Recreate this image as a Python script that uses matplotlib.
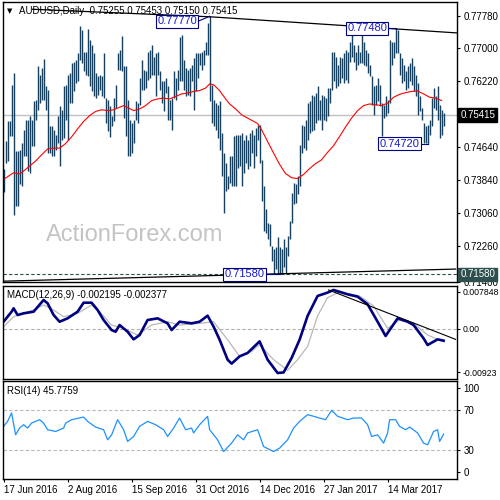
import numpy as np
import matplotlib.pyplot as plt
from matplotlib import transforms

plt.rcParams['font.family'] = ['Liberation Sans', 'DejaVu Sans']

# daily highs / lows, 17 Jun 2016 .. Apr 2017
highs = [
    0.7410, 0.7478, 0.7525, 0.7525, 0.7613, 0.7642, 0.7453, 0.7453, 0.7457, 0.7473,
    0.7505, 0.7529, 0.7529, 0.7537, 0.7529, 0.7573, 0.7577, 0.7657, 0.7637, 0.7653,
    0.7674, 0.7609, 0.7601, 0.7515, 0.7513, 0.7505, 0.7493, 0.7537, 0.7563, 0.7553,
    0.7609, 0.7613, 0.7637, 0.7641, 0.7665, 0.7668, 0.7672, 0.7688, 0.7754, 0.7744,
    0.7692, 0.7692, 0.7746, 0.7720, 0.7708, 0.7688, 0.7641, 0.7633, 0.7637, 0.7633,
    0.7688, 0.7581, 0.7577, 0.7561, 0.7537, 0.7581, 0.7613, 0.7688, 0.7696, 0.7730,
    0.7657, 0.7657, 0.7577, 0.7529, 0.7521, 0.7529, 0.7573, 0.7569, 0.7629, 0.7672,
    0.7649, 0.7645, 0.7692, 0.7696, 0.7708, 0.7680, 0.7688, 0.7692, 0.7645, 0.7621,
    0.7621, 0.7629, 0.7609, 0.7577, 0.7581, 0.7645, 0.7629, 0.7649, 0.7728, 0.7732,
    0.7672, 0.7653, 0.7649, 0.7653, 0.7661, 0.7676, 0.7688, 0.7688, 0.7688, 0.7692,
    0.7696, 0.7716, 0.7760, 0.7777, 0.7613, 0.7577, 0.7569, 0.7565, 0.7573, 0.7497,
    0.7449, 0.7426, 0.7394, 0.7441,
    0.7441, 0.7489, 0.7493, 0.7493, 0.7493, 0.7497, 0.7481, 0.7493, 0.7481, 0.7497,
    0.7505, 0.7493, 0.7509, 0.7517, 0.7517, 0.7433, 0.7370, 0.7314, 0.7282, 0.7278,
    0.7227, 0.7219, 0.7223, 0.7247, 0.7223, 0.7219, 0.7243, 0.7223, 0.7251, 0.7286,
    0.7354, 0.7378, 0.7374, 0.7394, 0.7469, 0.7517, 0.7513, 0.7529, 0.7569, 0.7573,
    0.7589, 0.7585, 0.7593, 0.7609, 0.7577, 0.7589, 0.7585, 0.7581, 0.7605, 0.7605,
    0.7692, 0.7692, 0.7680, 0.7661, 0.7680, 0.7676, 0.7688, 0.7696, 0.7692, 0.7716,
    0.7732, 0.7708, 0.7692, 0.7708, 0.7692, 0.7736, 0.7716, 0.7696, 0.7688, 0.7661,
    0.7633, 0.7609, 0.7613, 0.7629, 0.7613, 0.7569, 0.7565, 0.7585, 0.7577, 0.7720,
    0.7716, 0.7716, 0.7748, 0.7744, 0.7688, 0.7676, 0.7661, 0.7645, 0.7657, 0.7665,
    0.7676, 0.7657, 0.7637, 0.7617, 0.7585, 0.7557, 0.7521, 0.7513, 0.7517, 0.7529,
    0.7581, 0.7605, 0.7585, 0.7609, 0.7565, 0.7553, 0.7545,
]
lows = [
    0.7356, 0.7426, 0.7430, 0.7489, 0.7489, 0.7300, 0.7322, 0.7322, 0.7374, 0.7370,
    0.7441, 0.7441, 0.7406, 0.7402, 0.7465, 0.7465, 0.7529, 0.7553, 0.7569, 0.7577,
    0.7577, 0.7553, 0.7449, 0.7449, 0.7441, 0.7441, 0.7457, 0.7473, 0.7418, 0.7481,
    0.7485, 0.7529, 0.7481, 0.7569, 0.7569, 0.7597, 0.7617, 0.7621, 0.7672, 0.7665,
    0.7645, 0.7637, 0.7633, 0.7609, 0.7597, 0.7585, 0.7581, 0.7589, 0.7601, 0.7585,
    0.7581, 0.7521, 0.7501, 0.7488, 0.7513, 0.7525, 0.7557, 0.7649, 0.7649, 0.7645,
    0.7533, 0.7489, 0.7441, 0.7441, 0.7449, 0.7473, 0.7529, 0.7521, 0.7565, 0.7601,
    0.7601, 0.7605, 0.7625, 0.7629, 0.7637, 0.7637, 0.7585, 0.7637, 0.7601, 0.7569,
    0.7549, 0.7593, 0.7529, 0.7529, 0.7505, 0.7581, 0.7577, 0.7601, 0.7621, 0.7621,
    0.7601, 0.7585, 0.7589, 0.7585, 0.7621, 0.7553, 0.7597, 0.7629, 0.7661, 0.7649,
    0.7661, 0.7684, 0.7685, 0.7573, 0.7521, 0.7513, 0.7505, 0.7485, 0.7457, 0.7394,
    0.7306, 0.7358, 0.7362, 0.7378,
    0.7370, 0.7370, 0.7370, 0.7414, 0.7418, 0.7370, 0.7402, 0.7426, 0.7410, 0.7418,
    0.7449, 0.7414, 0.7441, 0.7481, 0.7426, 0.7334, 0.7262, 0.7258, 0.7243, 0.7227,
    0.7191, 0.7159, 0.7171, 0.7159, 0.7158, 0.7160, 0.7175, 0.7160, 0.7203, 0.7243,
    0.7282, 0.7326, 0.7330, 0.7350, 0.7370, 0.7449, 0.7461, 0.7457, 0.7481, 0.7497,
    0.7501, 0.7505, 0.7521, 0.7529, 0.7529, 0.7505, 0.7529, 0.7525, 0.7537, 0.7569,
    0.7601, 0.7621, 0.7605, 0.7609, 0.7617, 0.7629, 0.7617, 0.7625, 0.7617, 0.7668,
    0.7680, 0.7668, 0.7649, 0.7661, 0.7665, 0.7665, 0.7661, 0.7657, 0.7641, 0.7633,
    0.7565, 0.7541, 0.7565, 0.7573, 0.7561, 0.7489, 0.7533, 0.7537, 0.7545, 0.7569,
    0.7661, 0.7676, 0.7688, 0.7688, 0.7637, 0.7617, 0.7621, 0.7601, 0.7605, 0.7621,
    0.7613, 0.7597, 0.7585, 0.7541, 0.7549, 0.7529, 0.7473, 0.7473, 0.7472, 0.7493,
    0.7513, 0.7557, 0.7553, 0.7529, 0.7485, 0.7493, 0.7515,
]
last_ohlc = [0.75255, 0.75453, 0.75150, 0.75415]

# moving average (red)
ma_idx = [0, 5, 8, 10, 13, 16, 19, 22, 25, 28, 31, 34, 37, 40, 43, 46, 49, 52, 55, 58,
          60, 63, 65, 68, 71, 74, 77, 80, 83, 86, 89, 92, 95, 98, 101, 103, 105, 108, 111,
          113, 116, 119, 122, 127, 129, 132, 135, 138, 141, 144, 147, 150, 153, 156, 159,
          162, 165, 168, 171, 174, 177, 180, 183, 186, 189, 192, 195, 198, 201, 204, 207,
          210, 213, 216, 219]
ma_val = [0.7386, 0.7402, 0.7399, 0.7406, 0.7418, 0.7430, 0.7445, 0.7459, 0.7461, 0.7461,
          0.7472, 0.7488, 0.7507, 0.7525, 0.7539, 0.7549, 0.7553, 0.7551, 0.7553, 0.7559,
          0.7563, 0.7556, 0.7551, 0.7555, 0.7563, 0.7575, 0.7579, 0.7581, 0.7579, 0.7585,
          0.7591, 0.7593, 0.7597, 0.7599, 0.7605, 0.7615, 0.7613, 0.7599, 0.7579, 0.7567,
          0.7555, 0.7541, 0.7533, 0.7520, 0.7505, 0.7477, 0.7449, 0.7422, 0.7400, 0.7390,
          0.7388, 0.7398, 0.7412, 0.7424, 0.7433, 0.7451, 0.7467, 0.7489, 0.7512, 0.7533,
          0.7551, 0.7563, 0.7567, 0.7565, 0.7563, 0.7569, 0.7583, 0.7590, 0.7594, 0.7597,
          0.7598, 0.7591, 0.7583, 0.7581, 0.7575]

# MACD(12,26,9)
macd_idx = [0, 4, 5, 7, 10, 15, 20, 22, 25, 28, 32, 37, 40, 44, 47, 50, 54, 56, 58, 62,
            65, 68, 72, 77, 82, 84, 88, 94, 98, 102, 105, 108, 112, 114, 118, 122, 128,
            132, 137, 140, 144, 148, 152, 157, 162, 165, 172, 177, 182, 187, 191, 197,
            202, 205, 210, 212, 217, 220]
macd_val = [0.00129, 0.00313, 0.00375, 0.00252, 0.00283, 0.00313, 0.00528, 0.00467,
            0.00252, 0.00129, 0.00191, 0.00313, 0.00478, 0.00478, 0.00344, 0.00160,
            -0.00024, -0.00055, 0.00068, -0.00055, -0.00195, -0.00116, 0.00160, 0.00191,
            0.00099, -0.00024, 0.00129, 0.00099, 0.00129, 0.00240, 0.00038, -0.00201,
            -0.00568, -0.00641, -0.00507, -0.00445, -0.00232, -0.00568, -0.00813,
            -0.00802, -0.00537, -0.00201, 0.00236, 0.00602, 0.00664, 0.00712, 0.00632,
            0.00590, 0.00449, 0.00129, -0.00133, 0.00191, 0.00129, 0.00068, -0.00177,
            -0.00299, -0.00195, -0.002195]
sig_idx = [0, 5, 10, 15, 20, 25, 30, 37, 44, 48, 54, 60, 67, 74, 82, 88, 98, 105, 112,
           118, 124, 128, 135, 142, 147, 152, 157, 162, 168, 178, 185, 192, 198, 205, 212,
           217, 220]
sig_val = [0.00038, 0.00221, 0.00283, 0.00344, 0.00436, 0.00344, 0.00221, 0.00283,
           0.00436, 0.00313, 0.00068, 0.00007, -0.00116, 0.00068, 0.00129, 0.00068,
           0.00099, 0.00129, -0.00201, -0.00507, -0.00415, -0.00293, -0.00568, -0.00764,
           -0.00568, -0.00324, 0.00236, 0.00572, 0.00675, 0.00602, 0.00418, 0.00007,
           0.00160, 0.00099, -0.00116, -0.00195, -0.002377]

# RSI(14)
rsi_idx = [0, 2, 4, 6, 8, 10, 12, 14, 18, 20, 22, 26, 30, 31, 34, 40, 42, 46, 50, 52,
           54, 57, 60, 62, 65, 68, 72, 76, 80, 82, 85, 88, 91, 94, 95, 98, 102, 103, 107,
           110, 114, 117, 120, 122, 127, 130, 135, 138, 142, 145, 148, 152, 155, 158, 161,
           164, 167, 172, 175, 179, 182, 184, 187, 190, 192, 193, 196, 198, 201, 203, 207,
           210, 212, 215, 217, 218, 220]
rsi_val = [53.7, 58.8, 67.4, 45.1, 52.0, 55.4, 52.0, 57.1, 60.5, 57.0, 50.3, 48.5, 52.0,
           57.0, 60.5, 63.2, 58.8, 53.0, 50.3, 40.0, 45.0, 60.5, 50.3, 38.3, 43.4, 53.7,
           58.8, 55.4, 50.3, 43.4, 52.0, 62.2, 50.3, 52.0, 47.0, 55.4, 63.9, 50.3, 40.0,
           28.0, 36.6, 45.1, 40.0, 47.0, 50.3, 33.1, 28.0, 31.5, 40.0, 52.0, 58.8, 65.6,
           64.0, 62.2, 60.5, 70.0, 64.0, 60.5, 62.2, 62.2, 55.4, 43.4, 45.1, 36.6, 47.0,
           60.5, 60.5, 53.7, 50.3, 53.0, 47.0, 36.6, 34.9, 48.5, 50.3, 38.3, 45.8]

date_idx = [0, 32, 64, 96, 128, 160, 192]
date_lbl = ['17 Jun 2016', '2 Aug 2016', '15 Sep 2016', '31 Oct 2016',
            '14 Dec 2016', '27 Jan 2017', '14 Mar 2017']
price_ticks = [0.7778, 0.7700, 0.7622, 0.7464, 0.7384, 0.7306, 0.7226, 0.7140]

# (label, bar of the extreme, bar where the label box sits)
marks = [(0.7777, 103, 86.8), (0.7748, 196, 181.8), (0.7472, 212, 198.0), (0.7158, 138, 120.5)]
top_line = ([14.5, 103, 227.5], [0.7794, 0.7776, 0.7737])
bottom_line = ([0, 226], [0.7142, 0.7171])
macd_line = ([162.5, 226], [0.00712, -0.00195])

bar_c = '#17405f'
n = len(highs)
idx = np.arange(n)

fig = plt.figure(figsize=(5, 5), dpi=100)
W = 500.0


def panel(l, t, r, b):
    return fig.add_axes([l / W, 1 - b / W, (r - l) / W, (b - t) / W])


ax1 = panel(3, 2, 457, 282)
ax2 = panel(3, 286, 457, 379)
ax3 = panel(3, 381, 457, 479)

for ax in (ax1, ax2, ax3):
    ax.set_xlim(-0.3, 226.7)
    ax.yaxis.tick_right()
    ax.tick_params(axis='y', length=2.5, width=0.8, pad=2, labelsize=7, direction='out')
    ax.tick_params(axis='x', length=2.5, width=0.8, pad=2, labelsize=7)
    for s in ax.spines.values():
        s.set_linewidth(1.0)
    ax.set_xticks([])

# --- price panel
ax1.set_ylim(0.71425, 0.78114)
ax1.set_yticks(price_ticks)
ax1.set_yticklabels(['%.5f' % v for v in price_ticks])
ax1.axhline(last_ohlc[3], color='#c0c0c0', lw=1)
ax1.axhline(0.7158, color='#2f4f4f', lw=0.8, ls=(0, (3, 2)))
ax1.vlines(idx, lows, highs, color=bar_c, lw=1.0)
ax1.plot(ma_idx, ma_val, color='red', lw=0.8)
ax1.plot(*top_line, color='black', lw=0.9)
ax1.plot(*bottom_line, color='black', lw=0.9)
ax1.text(0.29, 0.168, 'ActionForex.com', transform=ax1.transAxes, ha='center', va='center',
         fontsize=17, color='#c4c4c4', zorder=1)
ax1.text(0.009, 0.967, '\u25bc', transform=ax1.transAxes, fontsize=5, va='center', family='DejaVu Sans')
ax1.text(0.036, 0.967, 'AUDUSD,Daily  ' + ' '.join('%.5f' % v for v in last_ohlc),
         transform=ax1.transAxes, fontsize=7, va='center')
for v, bi, ti in marks:
    ty = v - 0.0012 if v > 0.776 else v
    ax1.plot([ti + 10.3, bi], [ty, v], color='#000080', lw=0.8)
    ax1.text(ti, ty, '%.5f' % v, ha='center', va='center', fontsize=8, color='#1a1ad0', zorder=6,
             bbox=dict(boxstyle='square,pad=0.12', fc='white', ec='#000080', lw=0.8))
tr = transforms.blended_transform_factory(ax1.transAxes, ax1.transData)
ax1.text(1.007, last_ohlc[3], '%.5f' % last_ohlc[3], transform=tr, va='center', fontsize=7,
         color='white', zorder=7, clip_on=False,
         bbox=dict(boxstyle='square,pad=0.2', fc='black', ec='black'))
ax1.text(1.007, 0.7158, '0.71580', transform=tr, va='center', fontsize=7, color='white',
         zorder=7, clip_on=False, bbox=dict(boxstyle='square,pad=0.2', fc='#2f4f4f', ec='#2f4f4f'))

# --- MACD panel
ax2.set_ylim(-0.00923, 0.007848)
ax2.set_yticks([0.00675, 0.0, -0.00795])
ax2.set_yticklabels(['0.007848', '0.00', '-0.00923'])
ax2.tick_params(axis='y', labelsize=6.3, pad=1.5)
ax2.axhline(0, color='#b0b0b0', lw=0.8, ls=(0, (3, 2)))
ax2.plot(sig_idx, sig_val, color='#b8b8b8', lw=0.9)
ax2.plot(macd_idx, macd_val, color='#000080', lw=1.9)
ax2.plot(*macd_line, color='black', lw=0.8)
ax2.text(0.009, 0.9, 'MACD(12,26,9) -0.002195 -0.002377', transform=ax2.transAxes,
         fontsize=7, va='center')

# --- RSI panel
ax3.set_ylim(0, 100)
ax3.set_yticks([93.3, 70, 30, 7.2])
ax3.set_yticklabels(['100', '70', '30', '0'])
for lv in (70, 30):
    ax3.axhline(lv, color='#b8b8b8', lw=0.8, ls=(0, (3, 2)))
ax3.plot(rsi_idx, rsi_val, color='#1e90ff', lw=0.9)
ax3.text(0.009, 0.9, 'RSI(14) 45.7759', transform=ax3.transAxes, fontsize=7, va='center')
ax3.set_xticks(date_idx)
ax3.set_xticklabels(date_lbl, ha='left')

fig.savefig('out.png', dpi=100, facecolor='white')
